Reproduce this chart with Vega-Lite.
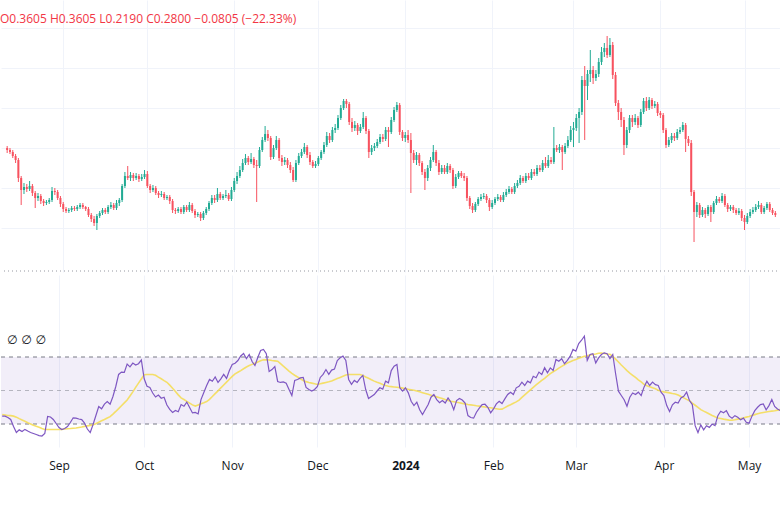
{
"$schema": "https://vega.github.io/schema/vega-lite/v6.json",
"padding": {"left": 0, "top": 0, "right": 0, "bottom": 30},
"spacing": 3,
"background": "#ffffff",
"config": {"view": {"stroke": null}, "font": "Open Sans"},
"data": {"values": [
{"d":"2023-08-12","o":0.252,"h":0.254,"l":0.247,"c":0.250,"r":34.7,"m":35.6},
{"d":"2023-08-13","o":0.250,"h":0.252,"l":0.246,"c":0.248,"r":34.7,"m":35.4},
{"d":"2023-08-14","o":0.248,"h":0.250,"l":0.242,"c":0.244,"r":33.9,"m":35.1},
{"d":"2023-08-15","o":0.244,"h":0.246,"l":0.237,"c":0.240,"r":32.7,"m":35.0},
{"d":"2023-08-16","o":0.240,"h":0.242,"l":0.218,"c":0.222,"r":28.5,"m":34.7},
{"d":"2023-08-17","o":0.222,"h":0.224,"l":0.195,"c":0.210,"r":24.9,"m":34.1},
{"d":"2023-08-18","o":0.210,"h":0.217,"l":0.206,"c":0.213,"r":26.5,"m":33.2},
{"d":"2023-08-19","o":0.213,"h":0.216,"l":0.208,"c":0.211,"r":25.5,"m":32.4},
{"d":"2023-08-20","o":0.211,"h":0.219,"l":0.209,"c":0.214,"r":26.8,"m":31.6},
{"d":"2023-08-21","o":0.214,"h":0.216,"l":0.204,"c":0.207,"r":25.8,"m":30.7},
{"d":"2023-08-22","o":0.207,"h":0.209,"l":0.192,"c":0.202,"r":24.9,"m":30.0},
{"d":"2023-08-23","o":0.202,"h":0.207,"l":0.199,"c":0.204,"r":24.3,"m":29.3},
{"d":"2023-08-24","o":0.204,"h":0.206,"l":0.196,"c":0.199,"r":23.7,"m":28.6},
{"d":"2023-08-25","o":0.199,"h":0.201,"l":0.194,"c":0.197,"r":23.1,"m":28.0},
{"d":"2023-08-26","o":0.197,"h":0.200,"l":0.195,"c":0.198,"r":22.8,"m":27.3},
{"d":"2023-08-27","o":0.198,"h":0.202,"l":0.196,"c":0.200,"r":24.3,"m":26.7},
{"d":"2023-08-28","o":0.200,"h":0.213,"l":0.198,"c":0.209,"r":34.5,"m":26.7},
{"d":"2023-08-29","o":0.209,"h":0.212,"l":0.205,"c":0.208,"r":34.2,"m":26.7},
{"d":"2023-08-30","o":0.208,"h":0.210,"l":0.200,"c":0.202,"r":32.7,"m":26.7},
{"d":"2023-08-31","o":0.202,"h":0.204,"l":0.193,"c":0.196,"r":30.3,"m":26.7},
{"d":"2023-09-01","o":0.196,"h":0.198,"l":0.188,"c":0.191,"r":27.9,"m":26.7},
{"d":"2023-09-02","o":0.191,"h":0.193,"l":0.187,"c":0.189,"r":26.7,"m":26.8},
{"d":"2023-09-03","o":0.189,"h":0.192,"l":0.187,"c":0.190,"r":27.3,"m":27.0},
{"d":"2023-09-04","o":0.190,"h":0.194,"l":0.188,"c":0.192,"r":28.5,"m":27.2},
{"d":"2023-09-05","o":0.192,"h":0.194,"l":0.189,"c":0.191,"r":30.9,"m":27.3},
{"d":"2023-09-06","o":0.191,"h":0.195,"l":0.189,"c":0.193,"r":33.7,"m":27.5},
{"d":"2023-09-07","o":0.193,"h":0.197,"l":0.191,"c":0.195,"r":33.5,"m":27.6},
{"d":"2023-09-08","o":0.195,"h":0.197,"l":0.191,"c":0.193,"r":33.0,"m":27.9},
{"d":"2023-09-09","o":0.193,"h":0.194,"l":0.189,"c":0.191,"r":32.6,"m":28.2},
{"d":"2023-09-10","o":0.191,"h":0.193,"l":0.183,"c":0.185,"r":30.5,"m":28.6},
{"d":"2023-09-11","o":0.185,"h":0.187,"l":0.178,"c":0.181,"r":27.0,"m":28.9},
{"d":"2023-09-12","o":0.181,"h":0.184,"l":0.174,"c":0.177,"r":24.9,"m":29.2},
{"d":"2023-09-13","o":0.177,"h":0.186,"l":0.170,"c":0.184,"r":29.7,"m":29.6},
{"d":"2023-09-14","o":0.184,"h":0.189,"l":0.182,"c":0.187,"r":35.1,"m":30.2},
{"d":"2023-09-15","o":0.187,"h":0.192,"l":0.185,"c":0.190,"r":40.4,"m":31.1},
{"d":"2023-09-16","o":0.190,"h":0.192,"l":0.186,"c":0.188,"r":39.1,"m":31.9},
{"d":"2023-09-17","o":0.188,"h":0.195,"l":0.186,"c":0.193,"r":41.9,"m":32.7},
{"d":"2023-09-18","o":0.193,"h":0.198,"l":0.191,"c":0.195,"r":43.4,"m":33.6},
{"d":"2023-09-19","o":0.195,"h":0.197,"l":0.190,"c":0.192,"r":41.8,"m":34.4},
{"d":"2023-09-20","o":0.192,"h":0.200,"l":0.190,"c":0.197,"r":46.4,"m":35.9},
{"d":"2023-09-21","o":0.197,"h":0.202,"l":0.194,"c":0.200,"r":52.4,"m":37.5},
{"d":"2023-09-22","o":0.200,"h":0.216,"l":0.198,"c":0.214,"r":59.6,"m":39.2},
{"d":"2023-09-23","o":0.214,"h":0.228,"l":0.212,"c":0.224,"r":61.0,"m":40.9},
{"d":"2023-09-24","o":0.224,"h":0.234,"l":0.220,"c":0.222,"r":60.8,"m":42.6},
{"d":"2023-09-25","o":0.222,"h":0.228,"l":0.219,"c":0.225,"r":65.8,"m":44.3},
{"d":"2023-09-26","o":0.225,"h":0.227,"l":0.219,"c":0.222,"r":64.1,"m":46.7},
{"d":"2023-09-27","o":0.222,"h":0.227,"l":0.220,"c":0.224,"r":66.4,"m":49.2},
{"d":"2023-09-28","o":0.224,"h":0.226,"l":0.218,"c":0.221,"r":65.2,"m":51.9},
{"d":"2023-09-29","o":0.221,"h":0.226,"l":0.219,"c":0.223,"r":66.0,"m":54.4},
{"d":"2023-09-30","o":0.223,"h":0.230,"l":0.221,"c":0.226,"r":68.2,"m":56.9},
{"d":"2023-10-01","o":0.226,"h":0.229,"l":0.212,"c":0.214,"r":57.0,"m":59.4},
{"d":"2023-10-02","o":0.214,"h":0.216,"l":0.207,"c":0.210,"r":52.5,"m":59.6},
{"d":"2023-10-03","o":0.210,"h":0.215,"l":0.208,"c":0.212,"r":51.8,"m":59.6},
{"d":"2023-10-04","o":0.212,"h":0.214,"l":0.205,"c":0.207,"r":48.5,"m":59.6},
{"d":"2023-10-05","o":0.207,"h":0.209,"l":0.202,"c":0.205,"r":46.1,"m":59.1},
{"d":"2023-10-06","o":0.205,"h":0.209,"l":0.203,"c":0.206,"r":47.3,"m":58.0},
{"d":"2023-10-07","o":0.206,"h":0.208,"l":0.200,"c":0.202,"r":45.4,"m":57.0},
{"d":"2023-10-08","o":0.202,"h":0.205,"l":0.200,"c":0.203,"r":46.0,"m":55.9},
{"d":"2023-10-09","o":0.203,"h":0.205,"l":0.196,"c":0.199,"r":41.3,"m":54.9},
{"d":"2023-10-10","o":0.199,"h":0.201,"l":0.187,"c":0.190,"r":38.7,"m":53.2},
{"d":"2023-10-11","o":0.190,"h":0.192,"l":0.186,"c":0.189,"r":36.9,"m":51.3},
{"d":"2023-10-12","o":0.189,"h":0.193,"l":0.187,"c":0.191,"r":38.1,"m":49.4},
{"d":"2023-10-13","o":0.191,"h":0.193,"l":0.186,"c":0.188,"r":37.3,"m":47.4},
{"d":"2023-10-14","o":0.188,"h":0.195,"l":0.186,"c":0.193,"r":41.6,"m":45.6},
{"d":"2023-10-15","o":0.193,"h":0.195,"l":0.188,"c":0.190,"r":40.6,"m":44.6},
{"d":"2023-10-16","o":0.190,"h":0.198,"l":0.188,"c":0.195,"r":43.1,"m":43.5},
{"d":"2023-10-17","o":0.195,"h":0.197,"l":0.187,"c":0.189,"r":39.9,"m":42.5},
{"d":"2023-10-18","o":0.189,"h":0.191,"l":0.182,"c":0.185,"r":36.6,"m":41.4},
{"d":"2023-10-19","o":0.185,"h":0.188,"l":0.183,"c":0.186,"r":36.9,"m":40.7},
{"d":"2023-10-20","o":0.186,"h":0.188,"l":0.179,"c":0.182,"r":36.0,"m":41.4},
{"d":"2023-10-21","o":0.182,"h":0.189,"l":0.180,"c":0.187,"r":44.6,"m":42.1},
{"d":"2023-10-22","o":0.187,"h":0.193,"l":0.185,"c":0.191,"r":48.8,"m":42.7},
{"d":"2023-10-23","o":0.191,"h":0.199,"l":0.189,"c":0.197,"r":53.0,"m":43.4},
{"d":"2023-10-24","o":0.197,"h":0.205,"l":0.195,"c":0.202,"r":56.6,"m":44.7},
{"d":"2023-10-25","o":0.202,"h":0.205,"l":0.197,"c":0.200,"r":55.5,"m":46.4},
{"d":"2023-10-26","o":0.200,"h":0.212,"l":0.198,"c":0.206,"r":58.1,"m":48.1},
{"d":"2023-10-27","o":0.206,"h":0.208,"l":0.200,"c":0.202,"r":54.8,"m":49.8},
{"d":"2023-10-28","o":0.202,"h":0.206,"l":0.200,"c":0.204,"r":57.0,"m":51.6},
{"d":"2023-10-29","o":0.204,"h":0.210,"l":0.202,"c":0.205,"r":59.6,"m":53.3},
{"d":"2023-10-30","o":0.205,"h":0.207,"l":0.199,"c":0.201,"r":57.2,"m":55.0},
{"d":"2023-10-31","o":0.201,"h":0.213,"l":0.199,"c":0.210,"r":61.9,"m":56.7},
{"d":"2023-11-01","o":0.210,"h":0.222,"l":0.208,"c":0.219,"r":65.5,"m":58.4},
{"d":"2023-11-02","o":0.219,"h":0.228,"l":0.216,"c":0.224,"r":66.3,"m":59.9},
{"d":"2023-11-03","o":0.224,"h":0.234,"l":0.222,"c":0.230,"r":67.9,"m":60.9},
{"d":"2023-11-04","o":0.230,"h":0.241,"l":0.228,"c":0.237,"r":70.6,"m":61.9},
{"d":"2023-11-05","o":0.237,"h":0.246,"l":0.235,"c":0.242,"r":72.1,"m":63.0},
{"d":"2023-11-06","o":0.242,"h":0.244,"l":0.235,"c":0.238,"r":69.0,"m":64.0},
{"d":"2023-11-07","o":0.238,"h":0.247,"l":0.236,"c":0.241,"r":71.5,"m":64.9},
{"d":"2023-11-08","o":0.241,"h":0.243,"l":0.232,"c":0.235,"r":67.3,"m":65.6},
{"d":"2023-11-09","o":0.235,"h":0.240,"l":0.198,"c":0.234,"r":64.9,"m":66.3},
{"d":"2023-11-10","o":0.234,"h":0.253,"l":0.232,"c":0.250,"r":69.7,"m":67.0},
{"d":"2023-11-11","o":0.250,"h":0.263,"l":0.248,"c":0.260,"r":73.9,"m":67.7},
{"d":"2023-11-12","o":0.260,"h":0.274,"l":0.258,"c":0.266,"r":74.5,"m":68.3},
{"d":"2023-11-13","o":0.266,"h":0.270,"l":0.259,"c":0.262,"r":72.0,"m":68.4},
{"d":"2023-11-14","o":0.262,"h":0.264,"l":0.240,"c":0.243,"r":61.3,"m":68.2},
{"d":"2023-11-15","o":0.243,"h":0.255,"l":0.241,"c":0.252,"r":62.5,"m":67.9},
{"d":"2023-11-16","o":0.252,"h":0.264,"l":0.250,"c":0.260,"r":64.3,"m":67.7},
{"d":"2023-11-17","o":0.260,"h":0.262,"l":0.239,"c":0.242,"r":55.4,"m":67.5},
{"d":"2023-11-18","o":0.242,"h":0.245,"l":0.234,"c":0.238,"r":54.8,"m":66.0},
{"d":"2023-11-19","o":0.238,"h":0.243,"l":0.235,"c":0.240,"r":55.1,"m":64.5},
{"d":"2023-11-20","o":0.240,"h":0.242,"l":0.232,"c":0.235,"r":54.4,"m":63.1},
{"d":"2023-11-21","o":0.235,"h":0.238,"l":0.227,"c":0.230,"r":50.6,"m":61.6},
{"d":"2023-11-22","o":0.230,"h":0.233,"l":0.218,"c":0.220,"r":47.0,"m":60.2},
{"d":"2023-11-23","o":0.220,"h":0.240,"l":0.218,"c":0.237,"r":56.0,"m":59.1},
{"d":"2023-11-24","o":0.237,"h":0.247,"l":0.235,"c":0.244,"r":56.6,"m":58.1},
{"d":"2023-11-25","o":0.244,"h":0.251,"l":0.242,"c":0.248,"r":57.5,"m":57.0},
{"d":"2023-11-26","o":0.248,"h":0.257,"l":0.246,"c":0.253,"r":57.8,"m":56.0},
{"d":"2023-11-27","o":0.253,"h":0.255,"l":0.242,"c":0.245,"r":51.8,"m":55.3},
{"d":"2023-11-28","o":0.245,"h":0.248,"l":0.235,"c":0.238,"r":50.6,"m":54.8},
{"d":"2023-11-29","o":0.238,"h":0.240,"l":0.232,"c":0.234,"r":49.7,"m":54.4},
{"d":"2023-11-30","o":0.234,"h":0.239,"l":0.232,"c":0.236,"r":50.6,"m":54.0},
{"d":"2023-12-01","o":0.236,"h":0.244,"l":0.234,"c":0.242,"r":52.4,"m":53.6},
{"d":"2023-12-02","o":0.242,"h":0.250,"l":0.240,"c":0.248,"r":57.8,"m":54.0},
{"d":"2023-12-03","o":0.248,"h":0.258,"l":0.246,"c":0.255,"r":59.6,"m":54.4},
{"d":"2023-12-04","o":0.255,"h":0.268,"l":0.253,"c":0.264,"r":62.5,"m":54.8},
{"d":"2023-12-05","o":0.264,"h":0.267,"l":0.257,"c":0.260,"r":59.6,"m":55.2},
{"d":"2023-12-06","o":0.260,"h":0.273,"l":0.258,"c":0.270,"r":62.2,"m":55.7},
{"d":"2023-12-07","o":0.270,"h":0.276,"l":0.267,"c":0.272,"r":62.8,"m":56.4},
{"d":"2023-12-08","o":0.272,"h":0.285,"l":0.270,"c":0.282,"r":67.9,"m":57.1},
{"d":"2023-12-09","o":0.282,"h":0.295,"l":0.280,"c":0.292,"r":69.5,"m":57.8},
{"d":"2023-12-10","o":0.292,"h":0.301,"l":0.290,"c":0.299,"r":70.5,"m":58.5},
{"d":"2023-12-11","o":0.299,"h":0.301,"l":0.292,"c":0.296,"r":68.0,"m":59.2},
{"d":"2023-12-12","o":0.296,"h":0.298,"l":0.275,"c":0.278,"r":56.6,"m":59.6},
{"d":"2023-12-13","o":0.278,"h":0.282,"l":0.268,"c":0.272,"r":53.7,"m":59.6},
{"d":"2023-12-14","o":0.272,"h":0.279,"l":0.269,"c":0.275,"r":56.0,"m":59.6},
{"d":"2023-12-15","o":0.275,"h":0.277,"l":0.265,"c":0.269,"r":54.8,"m":59.6},
{"d":"2023-12-16","o":0.269,"h":0.276,"l":0.267,"c":0.273,"r":57.2,"m":59.6},
{"d":"2023-12-17","o":0.273,"h":0.288,"l":0.271,"c":0.282,"r":59.0,"m":59.0},
{"d":"2023-12-18","o":0.282,"h":0.284,"l":0.266,"c":0.269,"r":50.6,"m":58.1},
{"d":"2023-12-19","o":0.269,"h":0.271,"l":0.242,"c":0.248,"r":45.2,"m":57.3},
{"d":"2023-12-20","o":0.248,"h":0.255,"l":0.245,"c":0.252,"r":46.4,"m":56.4},
{"d":"2023-12-21","o":0.252,"h":0.257,"l":0.249,"c":0.254,"r":47.6,"m":55.6},
{"d":"2023-12-22","o":0.254,"h":0.261,"l":0.252,"c":0.258,"r":49.7,"m":54.9},
{"d":"2023-12-23","o":0.258,"h":0.266,"l":0.256,"c":0.263,"r":51.6,"m":54.3},
{"d":"2023-12-24","o":0.263,"h":0.266,"l":0.258,"c":0.261,"r":50.8,"m":53.6},
{"d":"2023-12-25","o":0.261,"h":0.273,"l":0.259,"c":0.270,"r":55.6,"m":53.0},
{"d":"2023-12-26","o":0.270,"h":0.273,"l":0.253,"c":0.268,"r":54.6,"m":52.5},
{"d":"2023-12-27","o":0.268,"h":0.283,"l":0.266,"c":0.280,"r":61.9,"m":52.3},
{"d":"2023-12-28","o":0.280,"h":0.293,"l":0.278,"c":0.290,"r":64.5,"m":52.1},
{"d":"2023-12-29","o":0.290,"h":0.298,"l":0.288,"c":0.295,"r":65.5,"m":51.9},
{"d":"2023-12-30","o":0.295,"h":0.297,"l":0.265,"c":0.268,"r":51.6,"m":51.7},
{"d":"2023-12-31","o":0.268,"h":0.270,"l":0.259,"c":0.262,"r":49.6,"m":51.4},
{"d":"2024-01-01","o":0.262,"h":0.268,"l":0.258,"c":0.265,"r":51.6,"m":51.1},
{"d":"2024-01-02","o":0.265,"h":0.270,"l":0.257,"c":0.260,"r":48.6,"m":50.7},
{"d":"2024-01-03","o":0.260,"h":0.267,"l":0.207,"c":0.247,"r":43.6,"m":50.4},
{"d":"2024-01-04","o":0.247,"h":0.250,"l":0.237,"c":0.240,"r":41.0,"m":50.1},
{"d":"2024-01-05","o":0.240,"h":0.248,"l":0.235,"c":0.245,"r":43.0,"m":49.7},
{"d":"2024-01-06","o":0.245,"h":0.247,"l":0.234,"c":0.237,"r":38.5,"m":49.2},
{"d":"2024-01-07","o":0.237,"h":0.239,"l":0.225,"c":0.228,"r":35.7,"m":48.7},
{"d":"2024-01-08","o":0.228,"h":0.231,"l":0.210,"c":0.222,"r":38.7,"m":48.2},
{"d":"2024-01-09","o":0.222,"h":0.235,"l":0.219,"c":0.232,"r":41.6,"m":47.7},
{"d":"2024-01-10","o":0.232,"h":0.243,"l":0.229,"c":0.240,"r":46.0,"m":47.2},
{"d":"2024-01-11","o":0.240,"h":0.255,"l":0.238,"c":0.248,"r":47.6,"m":46.7},
{"d":"2024-01-12","o":0.248,"h":0.250,"l":0.234,"c":0.237,"r":44.6,"m":46.2},
{"d":"2024-01-13","o":0.237,"h":0.240,"l":0.225,"c":0.228,"r":42.7,"m":45.7},
{"d":"2024-01-14","o":0.228,"h":0.235,"l":0.226,"c":0.232,"r":44.0,"m":45.2},
{"d":"2024-01-15","o":0.232,"h":0.235,"l":0.226,"c":0.228,"r":42.5,"m":44.6},
{"d":"2024-01-16","o":0.228,"h":0.237,"l":0.226,"c":0.234,"r":45.6,"m":44.1},
{"d":"2024-01-17","o":0.234,"h":0.236,"l":0.227,"c":0.230,"r":43.0,"m":43.6},
{"d":"2024-01-18","o":0.230,"h":0.232,"l":0.211,"c":0.214,"r":38.5,"m":43.3},
{"d":"2024-01-19","o":0.214,"h":0.226,"l":0.212,"c":0.223,"r":44.0,"m":43.0},
{"d":"2024-01-20","o":0.223,"h":0.229,"l":0.221,"c":0.227,"r":45.2,"m":42.7},
{"d":"2024-01-21","o":0.227,"h":0.229,"l":0.222,"c":0.224,"r":44.3,"m":42.3},
{"d":"2024-01-22","o":0.224,"h":0.227,"l":0.219,"c":0.222,"r":42.5,"m":42.0},
{"d":"2024-01-23","o":0.222,"h":0.224,"l":0.199,"c":0.202,"r":35.0,"m":41.6},
{"d":"2024-01-24","o":0.202,"h":0.204,"l":0.191,"c":0.194,"r":33.9,"m":41.4},
{"d":"2024-01-25","o":0.194,"h":0.197,"l":0.187,"c":0.190,"r":33.5,"m":41.2},
{"d":"2024-01-26","o":0.190,"h":0.198,"l":0.188,"c":0.196,"r":37.0,"m":40.9},
{"d":"2024-01-27","o":0.196,"h":0.203,"l":0.194,"c":0.201,"r":39.5,"m":40.7},
{"d":"2024-01-28","o":0.201,"h":0.206,"l":0.199,"c":0.203,"r":41.6,"m":40.4},
{"d":"2024-01-29","o":0.203,"h":0.207,"l":0.201,"c":0.204,"r":41.8,"m":40.2},
{"d":"2024-01-30","o":0.204,"h":0.206,"l":0.197,"c":0.200,"r":40.0,"m":39.9},
{"d":"2024-01-31","o":0.200,"h":0.202,"l":0.189,"c":0.193,"r":36.7,"m":39.7},
{"d":"2024-02-01","o":0.193,"h":0.200,"l":0.191,"c":0.197,"r":39.0,"m":39.4},
{"d":"2024-02-02","o":0.197,"h":0.203,"l":0.195,"c":0.201,"r":42.0,"m":39.1},
{"d":"2024-02-03","o":0.201,"h":0.206,"l":0.199,"c":0.203,"r":43.6,"m":38.8},
{"d":"2024-02-04","o":0.203,"h":0.205,"l":0.198,"c":0.200,"r":42.2,"m":38.9},
{"d":"2024-02-05","o":0.200,"h":0.208,"l":0.198,"c":0.205,"r":45.0,"m":39.8},
{"d":"2024-02-06","o":0.205,"h":0.211,"l":0.203,"c":0.208,"r":47.6,"m":40.7},
{"d":"2024-02-07","o":0.208,"h":0.214,"l":0.206,"c":0.211,"r":49.0,"m":41.5},
{"d":"2024-02-08","o":0.211,"h":0.213,"l":0.206,"c":0.208,"r":47.6,"m":42.4},
{"d":"2024-02-09","o":0.208,"h":0.217,"l":0.206,"c":0.214,"r":51.6,"m":43.2},
{"d":"2024-02-10","o":0.214,"h":0.220,"l":0.212,"c":0.217,"r":52.5,"m":44.3},
{"d":"2024-02-11","o":0.217,"h":0.225,"l":0.215,"c":0.222,"r":55.0,"m":45.9},
{"d":"2024-02-12","o":0.222,"h":0.224,"l":0.217,"c":0.219,"r":53.0,"m":47.4},
{"d":"2024-02-13","o":0.219,"h":0.227,"l":0.217,"c":0.224,"r":55.6,"m":48.9},
{"d":"2024-02-14","o":0.224,"h":0.227,"l":0.220,"c":0.222,"r":54.6,"m":50.4},
{"d":"2024-02-15","o":0.222,"h":0.231,"l":0.220,"c":0.228,"r":58.5,"m":51.9},
{"d":"2024-02-16","o":0.228,"h":0.231,"l":0.224,"c":0.226,"r":57.6,"m":53.3},
{"d":"2024-02-17","o":0.226,"h":0.235,"l":0.224,"c":0.232,"r":61.0,"m":54.7},
{"d":"2024-02-18","o":0.232,"h":0.235,"l":0.228,"c":0.230,"r":59.6,"m":56.0},
{"d":"2024-02-19","o":0.230,"h":0.240,"l":0.228,"c":0.237,"r":63.6,"m":57.3},
{"d":"2024-02-20","o":0.237,"h":0.243,"l":0.232,"c":0.234,"r":60.6,"m":58.7},
{"d":"2024-02-21","o":0.234,"h":0.245,"l":0.232,"c":0.240,"r":63.5,"m":60.1},
{"d":"2024-02-22","o":0.240,"h":0.243,"l":0.236,"c":0.238,"r":62.0,"m":61.2},
{"d":"2024-02-23","o":0.238,"h":0.273,"l":0.236,"c":0.252,"r":68.5,"m":62.2},
{"d":"2024-02-24","o":0.252,"h":0.255,"l":0.248,"c":0.250,"r":67.5,"m":63.4},
{"d":"2024-02-25","o":0.250,"h":0.256,"l":0.247,"c":0.253,"r":69.0,"m":64.4},
{"d":"2024-02-26","o":0.253,"h":0.255,"l":0.230,"c":0.248,"r":66.0,"m":65.4},
{"d":"2024-02-27","o":0.248,"h":0.257,"l":0.246,"c":0.254,"r":68.0,"m":66.4},
{"d":"2024-02-28","o":0.254,"h":0.264,"l":0.252,"c":0.260,"r":70.5,"m":67.2},
{"d":"2024-02-29","o":0.260,"h":0.274,"l":0.258,"c":0.270,"r":74.5,"m":67.9},
{"d":"2024-03-01","o":0.270,"h":0.278,"l":0.253,"c":0.272,"r":73.5,"m":68.5},
{"d":"2024-03-02","o":0.272,"h":0.286,"l":0.269,"c":0.282,"r":78.0,"m":69.2},
{"d":"2024-03-03","o":0.282,"h":0.292,"l":0.257,"c":0.288,"r":80.0,"m":69.8},
{"d":"2024-03-04","o":0.288,"h":0.324,"l":0.285,"c":0.320,"r":82.4,"m":70.5},
{"d":"2024-03-05","o":0.320,"h":0.334,"l":0.260,"c":0.314,"r":68.0,"m":70.8},
{"d":"2024-03-06","o":0.314,"h":0.330,"l":0.300,"c":0.326,"r":71.5,"m":71.2},
{"d":"2024-03-07","o":0.326,"h":0.350,"l":0.318,"c":0.330,"r":72.0,"m":71.5},
{"d":"2024-03-08","o":0.330,"h":0.334,"l":0.316,"c":0.322,"r":66.5,"m":71.8},
{"d":"2024-03-09","o":0.322,"h":0.330,"l":0.319,"c":0.326,"r":69.5,"m":72.2},
{"d":"2024-03-10","o":0.326,"h":0.342,"l":0.323,"c":0.338,"r":71.5,"m":72.4},
{"d":"2024-03-11","o":0.338,"h":0.353,"l":0.335,"c":0.348,"r":72.5,"m":72.1},
{"d":"2024-03-12","o":0.348,"h":0.357,"l":0.343,"c":0.352,"r":72.0,"m":71.8},
{"d":"2024-03-13","o":0.352,"h":0.364,"l":0.342,"c":0.345,"r":69.0,"m":71.6},
{"d":"2024-03-14","o":0.345,"h":0.362,"l":0.343,"c":0.355,"r":71.5,"m":70.4},
{"d":"2024-03-15","o":0.355,"h":0.358,"l":0.321,"c":0.325,"r":60.0,"m":68.7},
{"d":"2024-03-16","o":0.325,"h":0.328,"l":0.294,"c":0.297,"r":49.6,"m":67.0},
{"d":"2024-03-17","o":0.297,"h":0.300,"l":0.280,"c":0.288,"r":47.0,"m":65.2},
{"d":"2024-03-18","o":0.288,"h":0.292,"l":0.273,"c":0.280,"r":44.5,"m":63.6},
{"d":"2024-03-19","o":0.280,"h":0.283,"l":0.245,"c":0.255,"r":40.6,"m":61.9},
{"d":"2024-03-20","o":0.255,"h":0.273,"l":0.252,"c":0.270,"r":46.0,"m":60.4},
{"d":"2024-03-21","o":0.270,"h":0.285,"l":0.267,"c":0.282,"r":48.5,"m":59.1},
{"d":"2024-03-22","o":0.282,"h":0.285,"l":0.273,"c":0.278,"r":47.6,"m":57.8},
{"d":"2024-03-23","o":0.278,"h":0.286,"l":0.275,"c":0.282,"r":49.0,"m":56.4},
{"d":"2024-03-24","o":0.282,"h":0.284,"l":0.272,"c":0.275,"r":47.0,"m":55.1},
{"d":"2024-03-25","o":0.275,"h":0.291,"l":0.273,"c":0.288,"r":52.0,"m":53.7},
{"d":"2024-03-26","o":0.288,"h":0.302,"l":0.286,"c":0.299,"r":55.5,"m":52.9},
{"d":"2024-03-27","o":0.299,"h":0.303,"l":0.289,"c":0.292,"r":53.0,"m":52.3},
{"d":"2024-03-28","o":0.292,"h":0.303,"l":0.290,"c":0.300,"r":55.0,"m":51.6},
{"d":"2024-03-29","o":0.300,"h":0.302,"l":0.291,"c":0.294,"r":53.5,"m":51.0},
{"d":"2024-03-30","o":0.294,"h":0.299,"l":0.292,"c":0.296,"r":53.0,"m":50.2},
{"d":"2024-03-31","o":0.296,"h":0.298,"l":0.284,"c":0.287,"r":49.0,"m":49.6},
{"d":"2024-04-01","o":0.287,"h":0.289,"l":0.282,"c":0.285,"r":47.0,"m":49.2},
{"d":"2024-04-02","o":0.285,"h":0.287,"l":0.267,"c":0.270,"r":41.0,"m":48.9},
{"d":"2024-04-03","o":0.270,"h":0.272,"l":0.252,"c":0.255,"r":37.5,"m":48.6},
{"d":"2024-04-04","o":0.255,"h":0.263,"l":0.253,"c":0.260,"r":41.5,"m":48.2},
{"d":"2024-04-05","o":0.260,"h":0.267,"l":0.257,"c":0.264,"r":43.0,"m":47.9},
{"d":"2024-04-06","o":0.264,"h":0.267,"l":0.259,"c":0.262,"r":42.5,"m":47.3},
{"d":"2024-04-07","o":0.262,"h":0.271,"l":0.260,"c":0.268,"r":45.5,"m":46.4},
{"d":"2024-04-08","o":0.268,"h":0.273,"l":0.266,"c":0.270,"r":46.5,"m":45.6},
{"d":"2024-04-09","o":0.270,"h":0.278,"l":0.268,"c":0.275,"r":49.0,"m":44.7},
{"d":"2024-04-10","o":0.275,"h":0.277,"l":0.248,"c":0.261,"r":44.0,"m":43.9},
{"d":"2024-04-11","o":0.261,"h":0.264,"l":0.254,"c":0.257,"r":41.6,"m":42.5},
{"d":"2024-04-12","o":0.257,"h":0.260,"l":0.204,"c":0.208,"r":29.0,"m":41.2},
{"d":"2024-04-13","o":0.208,"h":0.210,"l":0.158,"c":0.188,"r":24.9,"m":39.9},
{"d":"2024-04-14","o":0.188,"h":0.198,"l":0.183,"c":0.195,"r":29.5,"m":38.6},
{"d":"2024-04-15","o":0.195,"h":0.197,"l":0.182,"c":0.185,"r":26.5,"m":37.7},
{"d":"2024-04-16","o":0.185,"h":0.193,"l":0.183,"c":0.190,"r":29.0,"m":36.9},
{"d":"2024-04-17","o":0.190,"h":0.192,"l":0.182,"c":0.186,"r":28.0,"m":36.0},
{"d":"2024-04-18","o":0.186,"h":0.195,"l":0.184,"c":0.193,"r":30.0,"m":35.1},
{"d":"2024-04-19","o":0.193,"h":0.195,"l":0.178,"c":0.188,"r":29.0,"m":34.3},
{"d":"2024-04-20","o":0.188,"h":0.199,"l":0.186,"c":0.197,"r":35.0,"m":33.6},
{"d":"2024-04-21","o":0.197,"h":0.204,"l":0.195,"c":0.201,"r":37.6,"m":33.3},
{"d":"2024-04-22","o":0.201,"h":0.203,"l":0.197,"c":0.199,"r":36.7,"m":32.9},
{"d":"2024-04-23","o":0.199,"h":0.207,"l":0.197,"c":0.204,"r":38.0,"m":32.6},
{"d":"2024-04-24","o":0.204,"h":0.206,"l":0.193,"c":0.195,"r":34.7,"m":32.3},
{"d":"2024-04-25","o":0.195,"h":0.197,"l":0.188,"c":0.191,"r":33.5,"m":32.2},
{"d":"2024-04-26","o":0.191,"h":0.195,"l":0.189,"c":0.193,"r":35.0,"m":32.5},
{"d":"2024-04-27","o":0.193,"h":0.195,"l":0.187,"c":0.190,"r":34.0,"m":32.9},
{"d":"2024-04-28","o":0.190,"h":0.192,"l":0.185,"c":0.187,"r":32.5,"m":33.2},
{"d":"2024-04-29","o":0.187,"h":0.192,"l":0.185,"c":0.189,"r":33.5,"m":33.6},
{"d":"2024-04-30","o":0.189,"h":0.191,"l":0.179,"c":0.182,"r":31.0,"m":34.1},
{"d":"2024-05-01","o":0.182,"h":0.185,"l":0.170,"c":0.178,"r":30.5,"m":34.5},
{"d":"2024-05-02","o":0.178,"h":0.187,"l":0.176,"c":0.184,"r":34.7,"m":35.1},
{"d":"2024-05-03","o":0.184,"h":0.191,"l":0.182,"c":0.188,"r":38.0,"m":35.6},
{"d":"2024-05-04","o":0.188,"h":0.193,"l":0.186,"c":0.190,"r":40.0,"m":36.1},
{"d":"2024-05-05","o":0.190,"h":0.196,"l":0.188,"c":0.193,"r":41.6,"m":36.6},
{"d":"2024-05-06","o":0.193,"h":0.199,"l":0.191,"c":0.195,"r":42.0,"m":36.9},
{"d":"2024-05-07","o":0.195,"h":0.197,"l":0.186,"c":0.188,"r":38.5,"m":37.2},
{"d":"2024-05-08","o":0.188,"h":0.194,"l":0.186,"c":0.192,"r":41.0,"m":37.5},
{"d":"2024-05-09","o":0.192,"h":0.198,"l":0.190,"c":0.196,"r":44.6,"m":37.7},
{"d":"2024-05-10","o":0.196,"h":0.198,"l":0.188,"c":0.190,"r":40.5,"m":37.9},
{"d":"2024-05-11","o":0.190,"h":0.192,"l":0.185,"c":0.187,"r":39.0,"m":38.3},
{"d":"2024-05-12","o":0.187,"h":0.189,"l":0.183,"c":0.185,"r":38.0,"m":38.6}
]},
"vconcat": [
{
  "width": 780,
  "height": 272,
  "title": {"text": "O0.3605  H0.3605  L0.2190  C0.2800  −0.0805 (−22.33%)", "anchor": "start", "frame": "group", "offset": -26, "fontSize": 12, "fontWeight": "normal", "font": "Open Sans", "color": "#f23645", "dx": -1},
  "layer": [
    {
      "mark": {"type": "rule", "strokeWidth": 1, "clip": true},
      "encoding": {
        "x": {"field": "d", "type": "temporal",
              "scale": {"type": "utc", "domain": [{"year": 2023, "month": 8, "date": 11, "hours": 14, "utc": true}, {"year": 2024, "month": 5, "date": 12, "hours": 5, "minutes": 36, "utc": true}]},
              "axis": {"values": [{"year": 2023, "month": 9, "date": 1, "utc": true}, {"year": 2023, "month": 10, "date": 1, "utc": true}, {"year": 2023, "month": 11, "date": 1, "utc": true}, {"year": 2023, "month": 12, "date": 1, "utc": true}, {"year": 2024, "month": 1, "date": 1, "utc": true}, {"year": 2024, "month": 2, "date": 1, "utc": true}, {"year": 2024, "month": 3, "date": 1, "utc": true}, {"year": 2024, "month": 4, "date": 1, "utc": true}, {"year": 2024, "month": 5, "date": 1, "utc": true}],
                       "grid": true, "gridColor": "#f0f3fa", "labels": false, "ticks": false, "domain": false, "title": null}},
        "y": {"field": "l", "type": "quantitative",
              "scale": {"domain": [0.128, 0.4], "nice": false, "zero": false},
              "axis": {"values": [0.172, 0.212, 0.252, 0.292, 0.332, 0.372], "grid": true, "gridColor": "#f0f3fa", "labels": false, "ticks": false, "domain": false, "title": null}},
        "y2": {"field": "h"},
        "color": {"condition": {"test": "datum.c >= datum.o", "value": "#22ab94"}, "value": "#f7525f"}
      }
    },
    {
      "mark": {"type": "bar", "size": 2, "clip": true},
      "encoding": {
        "x": {"field": "d", "type": "temporal"},
        "y": {"field": "o", "type": "quantitative"},
        "y2": {"field": "c"},
        "color": {"condition": {"test": "datum.c >= datum.o", "value": "#22ab94"}, "value": "#f7525f"}
      }
    },
    {
      "data": {"values": [{}]},
      "mark": {"type": "rule", "strokeDash": [1, 3], "color": "#9598a1", "strokeWidth": 1},
      "encoding": {"y": {"datum": 0.129}}
    }
  ]
},
{
  "width": 780,
  "height": 172,
  "title": {"text": "∅  ∅  ∅", "anchor": "start", "frame": "group", "offset": -72, "fontSize": 12, "fontWeight": "normal", "font": "DejaVu Sans", "color": "#131722", "dx": 6},
  "layer": [
    {
      "data": {"values": [{}]},
      "mark": {"type": "rect", "color": "#7e57c2", "opacity": 0.1},
      "encoding": {
        "y": {"datum": 70, "type": "quantitative", "scale": {"domain": [16.27, 118.96], "nice": false, "zero": false}, "axis": null},
        "y2": {"datum": 30}
      }
    },
    {
      "data": {"values": [{"v": 70}, {"v": 30}]},
      "mark": {"type": "rule", "strokeDash": [4, 4], "color": "#787b86", "strokeWidth": 1},
      "encoding": {"y": {"field": "v", "type": "quantitative"}}
    },
    {
      "data": {"values": [{"v": 50}]},
      "mark": {"type": "rule", "strokeDash": [4, 4], "color": "#787b86", "strokeWidth": 1, "opacity": 0.5},
      "encoding": {"y": {"field": "v", "type": "quantitative"}}
    },
    {
      "mark": {"type": "line", "color": "#f5dc4f", "strokeWidth": 1.6, "opacity": 0.85, "clip": true},
      "encoding": {
        "x": {"field": "d", "type": "temporal",
              "scale": {"type": "utc", "domain": [{"year": 2023, "month": 8, "date": 11, "hours": 14, "utc": true}, {"year": 2024, "month": 5, "date": 12, "hours": 5, "minutes": 36, "utc": true}]},
              "axis": {"values": [{"year": 2023, "month": 9, "date": 1, "utc": true}, {"year": 2023, "month": 10, "date": 1, "utc": true}, {"year": 2023, "month": 11, "date": 1, "utc": true}, {"year": 2023, "month": 12, "date": 1, "utc": true}, {"year": 2024, "month": 1, "date": 1, "utc": true}, {"year": 2024, "month": 2, "date": 1, "utc": true}, {"year": 2024, "month": 3, "date": 1, "utc": true}, {"year": 2024, "month": 4, "date": 1, "utc": true}, {"year": 2024, "month": 5, "date": 1, "utc": true}],
                       "labelExpr": "utcmonth(datum.value) == 0 ? utcFormat(datum.value, '%Y') : utcFormat(datum.value, '%b')",
                       "grid": true, "gridColor": "#f0f3fa", "ticks": false, "domain": false, "title": null,
                       "labelPadding": 13, "labelFontSize": 12, "labelColor": "#131722", "labelFont": "Open Sans",
                       "labelFontWeight": {"condition": {"test": "utcmonth(datum.value) == 0", "value": "bold"}, "value": "normal"},
                       "labelFlush": false, "labelOverlap": false}},
        "y": {"field": "m", "type": "quantitative"}
      }
    },
    {
      "mark": {"type": "line", "color": "#7e57c2", "strokeWidth": 1.2, "clip": true},
      "encoding": {
        "x": {"field": "d", "type": "temporal"},
        "y": {"field": "r", "type": "quantitative"}
      }
    }
  ]
}
]
}
